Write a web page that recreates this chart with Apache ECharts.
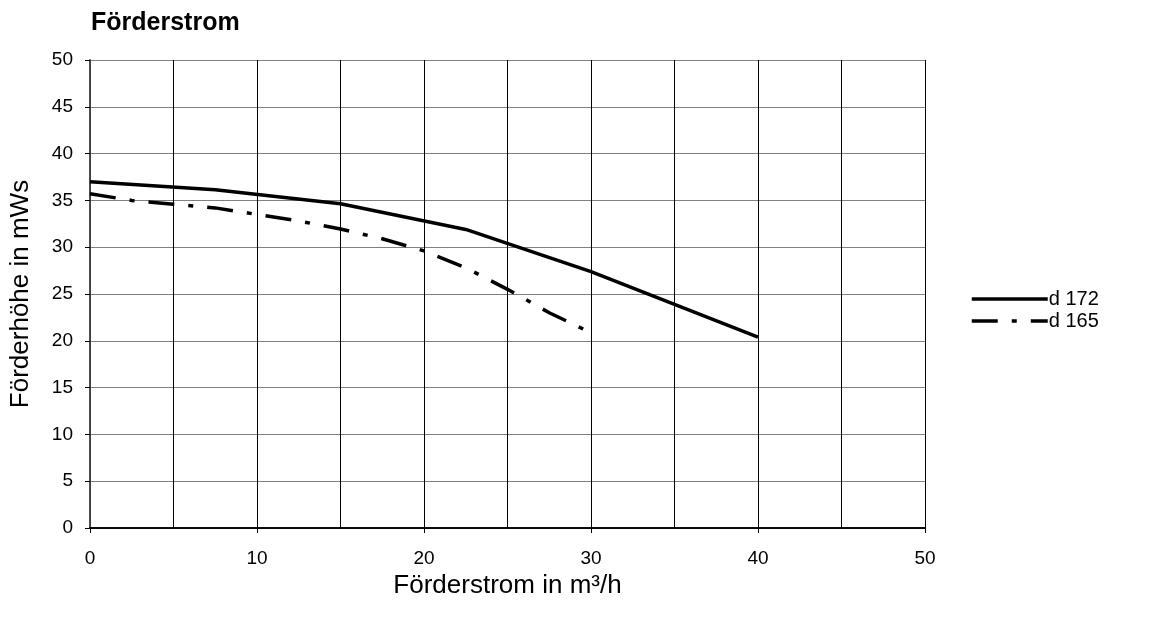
<!DOCTYPE html>
<html>
<head>
<meta charset="utf-8">
<title>Förderstrom</title>
<script src="https://cdn.jsdelivr.net/npm/echarts@6/dist/echarts.min.js"></script>
<style>
  html, body { margin: 0; padding: 0; background: #fff; }
  #chart { width: 1150px; height: 618px; }
</style>
</head>
<body>
<div id="chart"></div>
<script>
// Pump curves: flow rate (m³/h) against delivery head (mWs)
const seriesNames = ['d 172', 'd 165'];
const flowD172 = [0, 7.5, 15, 22.5, 30, 40];
const headD172 = [37.0, 36.15, 34.65, 31.9, 27.4, 20.4];
const flowD165 = [0, 2.5, 5, 7.5, 10, 12.5, 15, 17.5, 20, 22.5, 25, 27.5, 29.6];
const headD165 = [35.7, 35.0, 34.6, 34.2, 33.5, 32.8, 31.95, 30.9, 29.6, 27.8, 25.5, 23.0, 21.2];
const xRange = [0, 50];
const yRange = [0, 50];

const pairs = (xs, ys) => xs.map((x, i) => [x, ys[i]]);
const FONT = 'Liberation Sans, Arial, sans-serif';

const chart = echarts.init(document.getElementById('chart'), null, { renderer: 'canvas' });

chart.setOption({
  backgroundColor: '#fff',
  animation: false,
  textStyle: { fontFamily: FONT, color: '#000' },
  title: {
    text: 'Förderstrom',
    left: 86,
    top: 6,
    textStyle: { fontFamily: FONT, fontSize: 25, fontWeight: 'bold', color: '#000' }
  },
  legend: {
    orient: 'vertical',
    left: 965,
    top: 284,
    itemWidth: 76,
    itemHeight: 14,
    itemGap: 2,
    itemStyle: { opacity: 0 },
    lineStyle: { width: 3.5 },
    textStyle: { fontFamily: FONT, fontSize: 20, color: '#000', padding: [0, 0, 0, -4] },
    data: seriesNames
  },
  grid: { left: 90, right: 225, top: 60, bottom: 90, containLabel: false },
  xAxis: [
    {
      type: 'value',
      min: xRange[0],
      max: xRange[1],
      interval: 10,
      name: 'Förderstrom in m³/h',
      nameLocation: 'middle',
      nameGap: 40,
      nameTextStyle: { fontFamily: FONT, fontSize: 26, color: '#000' },
      axisLine: { show: true, onZero: false, lineStyle: { color: '#000', width: 1.5 } },
      axisTick: { show: true, inside: false, length: 5, lineStyle: { color: '#000' } },
      axisLabel: { fontFamily: FONT, fontSize: 19, color: '#000', margin: 21 },
      splitLine: { show: true, lineStyle: { color: '#000', width: 1 } },
      minorTick: { show: false, splitNumber: 2 },
      minorSplitLine: { show: true, lineStyle: { color: '#000', width: 1 } }
    },
    {
      type: 'value',
      position: 'top',
      min: xRange[0],
      max: xRange[1],
      axisLine: { show: true, lineStyle: { color: '#000', width: 1.5 } },
      axisTick: { show: false },
      axisLabel: { show: false },
      splitLine: { show: false }
    }
  ],
  yAxis: [
    {
      type: 'value',
      min: yRange[0],
      max: yRange[1],
      interval: 5,
      name: 'Förderhöhe in mWs',
      nameLocation: 'middle',
      nameGap: 56,
      nameTextStyle: { fontFamily: FONT, fontSize: 26, color: '#000' },
      axisLine: { show: true, onZero: false, lineStyle: { color: '#000', width: 1.5 } },
      axisTick: { show: true, inside: false, length: 5, lineStyle: { color: '#000' } },
      axisLabel: { fontFamily: FONT, fontSize: 19, color: '#000', margin: 17 },
      splitLine: { show: true, lineStyle: { color: '#808080', width: 1 } }
    },
    {
      type: 'value',
      position: 'right',
      min: yRange[0],
      max: yRange[1],
      axisLine: { show: true, lineStyle: { color: '#555', width: 1.5 } },
      axisTick: { show: false },
      axisLabel: { show: false },
      splitLine: { show: false }
    }
  ],
  series: [
    {
      name: seriesNames[0],
      type: 'line',
      xAxisIndex: 0,
      yAxisIndex: 0,
      data: pairs(flowD172, headD172),
      symbol: 'none',
      smooth: false,
      z: 5,
      lineStyle: { color: '#000', width: 3.5, type: 'solid' },
      itemStyle: { color: '#000' }
    },
    {
      name: seriesNames[1],
      type: 'line',
      xAxisIndex: 0,
      yAxisIndex: 0,
      data: pairs(flowD165, headD165),
      symbol: 'none',
      smooth: false,
      z: 5,
      lineStyle: { color: '#000', width: 3.5, type: [26, 14, 5, 14] },
      itemStyle: { color: '#000' }
    }
  ]
});
</script>
</body>
</html>
